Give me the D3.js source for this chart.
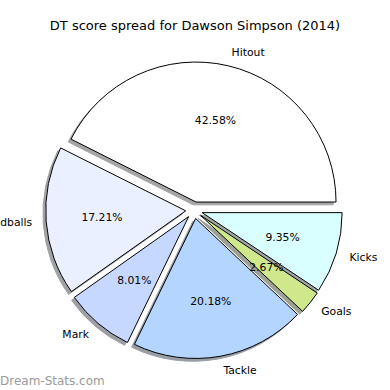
<!DOCTYPE html>
<meta charset="utf-8">
<style type="text/css">
	body { margin: 0; background: #fff; }
	svg { display: block; font-family: "DejaVu Sans", sans-serif; }
	.wedge { stroke: #000; stroke-width: 1; stroke-linejoin: miter; }
	.label, .pct { font-size: 10.8px; fill: #000; }
	.title { font-size: 13px; fill: #000; }
	.watermark { font-size: 12px; fill: #9a9a9a; }
</style>
<body></body>
<script src="https://d3js.org/d3.v7.min.js"></script>
<script>

	// slices in the order matplotlib draws them (counter-clockwise from 3 o'clock)
	var categories = ["Hitout", "Handballs", "Mark", "Tackle", "Goals", "Kicks"];
	var values = [42.58, 17.21, 8.01, 20.18, 2.67, 9.35];
	var colors = ["#ffffff", "#eaf0ff", "#c6d8ff", "#b3d5ff", "#cfe88b", "#d9ffff"];
	var explode = [0.06, 0.06, 0.06, 0.06, 0.06, 0.06];

	var width = 390, height = 390;
	var radius = 140;
	var cx = 194.1, cy = 210.2;

	var data = categories.map(function(c, i) {
		return {name: c, value: values[i], color: colors[i], explode: explode[i]};
	});

	var total = d3.sum(values);

	// start at 3 o'clock and go counter-clockwise
	var pie = d3.pie()
		.sort(null)
		.value(function(d) { return d.value; })
		.startAngle(Math.PI / 2)
		.endAngle(Math.PI / 2 - 2 * Math.PI);

	var r = d3.scaleLinear().domain([0, 1]).range([0, radius]);

	var arc = d3.arc().innerRadius(0).outerRadius(r(1));

	var arcs = pie(data);

	function mid(d) { return (d.startAngle + d.endAngle) / 2; }
	function polar(a, dist) { return [dist * Math.sin(a), -dist * Math.cos(a)]; }

	var svg = d3.select("body").append("svg")
		.attr("width", width)
		.attr("height", height);

	svg.append("text")
		.attr("class", "title")
		.attr("x", width / 2)
		.attr("y", 29.5)
		.attr("text-anchor", "middle")
		.text("DT score spread for Dawson Simpson (2014)");

	var g = svg.append("g")
		.attr("transform", "translate(" + cx + "," + cy + ")");

	// shadows first, all below the wedges
	var shadowOff = r(0.02);
	g.selectAll(".shadow")
		.data(arcs)
		.enter()
		.append("path")
		.attr("class", "shadow")
		.attr("transform", function(d) {
			var p = polar(mid(d), r(d.data.explode));
			return "translate(" + (p[0] - shadowOff) + "," + (p[1] + shadowOff) + ")";
		})
		.attr("d", arc)
		.style("fill", function(d) {
			var c = d3.rgb(d.data.color);
			return d3.rgb(c.r * 0.3, c.g * 0.3, c.b * 0.3);
		})
		.style("stroke", function(d) {
			var c = d3.rgb(d.data.color);
			return d3.rgb(c.r * 0.3, c.g * 0.3, c.b * 0.3);
		})
		.style("stroke-width", 1)
		.style("opacity", 0.5);

	g.selectAll(".wedge")
		.data(arcs)
		.enter()
		.append("path")
		.attr("class", "wedge")
		.attr("transform", function(d) {
			var p = polar(mid(d), r(d.data.explode));
			return "translate(" + p[0] + "," + p[1] + ")";
		})
		.attr("d", arc)
		.style("fill", function(d) { return d.data.color; });

	// category labels at 1.1 r, aligned away from the centre
	g.selectAll(".label")
		.data(arcs)
		.enter()
		.append("text")
		.attr("class", "label")
		.attr("x", function(d) { return polar(mid(d), r(1.1 + d.data.explode))[0]; })
		.attr("y", function(d) { return polar(mid(d), r(1.1 + d.data.explode))[1]; })
		.attr("dy", "0.35em")
		.attr("text-anchor", function(d) { return Math.sin(mid(d)) > 0 ? "start" : "end"; })
		.text(function(d) { return d.data.name; });

	// percentages at 0.6 r
	g.selectAll(".pct")
		.data(arcs)
		.enter()
		.append("text")
		.attr("class", "pct")
		.attr("x", function(d) { return polar(mid(d), r(0.6 + d.data.explode))[0]; })
		.attr("y", function(d) { return polar(mid(d), r(0.6 + d.data.explode))[1]; })
		.attr("dy", "0.35em")
		.attr("text-anchor", "middle")
		.text(function(d) { return d3.format(".2f")(d.data.value / total * 100) + "%"; });

	svg.append("text")
		.attr("class", "watermark")
		.attr("x", 0)
		.attr("y", 384.5)
		.text("Dream-Stats.com");

</script>
